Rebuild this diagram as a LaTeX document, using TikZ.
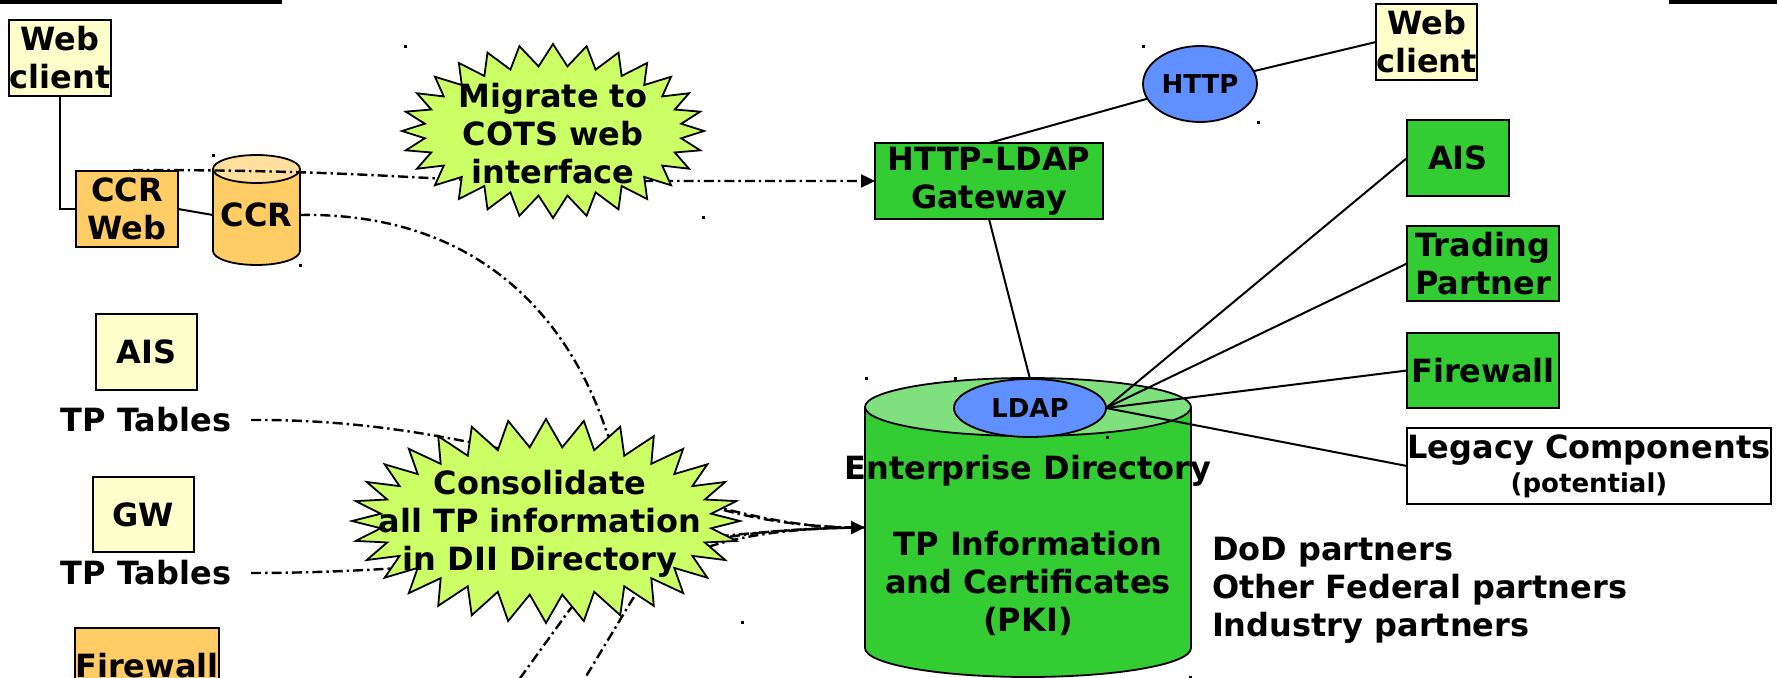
\documentclass[tikz,border=0pt]{standalone}
\usepackage{fontspec}
\setmainfont{DejaVu Sans}
\usetikzlibrary{shapes.geometric,shapes.symbols,arrows.meta}
\definecolor{ltyellow}{HTML}{FFFFCC}
\definecolor{ccrorange}{HTML}{FFCC66}
\definecolor{ccrtop}{HTML}{FFDF9E}
\definecolor{grn}{HTML}{33CC33}
\definecolor{grntop}{HTML}{80E080}
\definecolor{blu}{HTML}{6090FF}
\definecolor{burstc}{HTML}{CCFF66}
\begin{document}
\begin{tikzpicture}[x=0.5pt,y=-0.5pt,
  every node/.style={font=\bfseries\fontsize{16}{19}\selectfont, align=center, inner sep=0pt, outer sep=0pt},
  box/.style={draw, line width=0.9pt, minimum height=38pt},
  conn/.style={line width=1pt},
  dd/.style={line width=1.2pt, dash pattern=on 5pt off 2pt on 1.2pt off 2pt},
  burst/.style={starburst, draw, line width=0.9pt, fill=burstc, inner sep=0pt, random starburst=0},
  smallfont/.style={font=\bfseries\fontsize{13}{15}\selectfont},
  tipstyle/.style={-{Triangle[length=7pt,width=6.5pt]}}
]
\path[use as bounding box] (0,0) rectangle (1777,678);
\clip (0,0) rectangle (1777,678);
% top bars
\fill (0,0) rectangle (282,4);
\fill (1669,0) rectangle (1777,4);

% left nodes
\node[box, fill=ltyellow, minimum width=51pt] (webL) at (60,58) {Web\\client};
\node[box, fill=ccrorange, minimum width=51pt] (ccrweb) at (127,209) {CCR\\Web};
\node[box, fill=ltyellow, minimum width=50.5pt] (aisL) at (146.5,352) {AIS};
\node (tp1) at (146,420) {TP Tables};
\node[box, fill=ltyellow, minimum width=50.5pt, minimum height=37.5pt] (gwL) at (143.5,514.5) {GW};
\node (tp2) at (146,573) {TP Tables};
\node[box, fill=ccrorange, minimum width=69pt] (fwL) at (147,666) {Firewall};

% CCR cylinder
\draw[line width=0.9pt, fill=ccrorange] (256.5,251) ellipse [x radius=43.5, y radius=14];
\fill[ccrorange] (213,169) rectangle (300,251);
\draw[line width=0.9pt] (213,169) -- (213,251) (300,169) -- (300,251);
\draw[line width=0.9pt, fill=ccrtop] (256.5,169) ellipse [x radius=43.5, y radius=14];
\node[minimum width=43.5pt] (ccr) at (256.5,215) {CCR};

% Enterprise directory cylinder
\draw[line width=0.9pt, fill=grn] (1028,648) ellipse [x radius=163, y radius=29];
\fill[grn] (865,407) rectangle (1191,648);
\draw[line width=0.9pt] (865,407) -- (865,648) (1191,407) -- (1191,648);
\draw[line width=0.9pt, fill=grntop] (1028,407) ellipse [x radius=163, y radius=29];
\node[minimum width=163pt, minimum height=120.5pt] (dirbody) at (1028,527.5) {};
\node (dirtext) at (1028,545) {Enterprise Directory\\[19pt]TP Information\\and Certificates\\(PKI)};
\node[ellipse, draw, line width=0.9pt, fill=blu, minimum width=76pt, minimum height=29pt, smallfont] (ldap) at (1030,408) {LDAP};

% right nodes
\node[box, fill=ltyellow, minimum width=50.5pt] (webR) at (1426.5,42) {Web\\client};
\node[ellipse, draw, line width=0.9pt, fill=blu, minimum width=57pt, minimum height=38pt, smallfont] (http) at (1200,84) {HTTP};
\node[box, fill=grn, minimum width=114pt] (gw) at (989,181) {HTTP-LDAP\\Gateway};
\node[box, fill=grn, minimum width=51pt] (aisR) at (1458,158) {AIS};
\node[box, fill=grn, minimum width=76pt, minimum height=37.5pt] (tpR) at (1483,263.5) {Trading\\Partner};
\node[box, fill=grn, minimum width=76pt, minimum height=37.5pt] (fwR) at (1483,370.5) {Firewall};
\node[box, fill=white, minimum width=182pt] (legacy) at (1589,466) {Legacy Components\\[-2pt]{\fontsize{13}{15}\selectfont (potential)}};
\node[align=left, anchor=west] (partners) at (1212,590) {DoD partners\\Other Federal partners\\Industry partners};

% dash-dot connectors
\coordinate (m0) at (133,170);
\coordinate (b1) at (484,728);
\coordinate (b2) at (555,728);
\draw[dd, tipstyle] (m0) .. controls (380,170) and (430,182) .. (540,181) -- (gw.west);
\draw[dd] (ccr.east) .. controls (480,212) and (570,320) .. (607,433) .. controls (640,500) and (760,528) .. (dirbody.west);
\draw[dd, tipstyle] ([xshift=10pt]tp1.east) .. controls (520,418) and (700,528) .. (dirbody.west);
\draw[dd] ([xshift=10pt]tp2.east) .. controls (500,573) and (700,528) .. (dirbody.west);
\draw[dd] (b1) -- (568,612) .. controls (620,540) and (760,528) .. (dirbody.west);
\draw[dd] (b2) -- (632,600) .. controls (670,540) and (770,528) .. (dirbody.west);

% starbursts
\node[burst, minimum width=151pt, minimum height=87pt, starburst points=28, starburst point height=11pt] (mig) at (553,131) {};
\node (migtext) at (553,134) {Migrate to\\COTS web\\interface};
\node[burst, minimum width=194pt, minimum height=102pt, starburst points=32, starburst point height=14pt] (cons) at (546,521) {};
\node (constext) at (540,524) {Consolidate\\all TP information\\in DII Directory};

% solid connectors
\draw[conn] (webL.south) |- (ccrweb.west);
\draw[conn] (ccrweb.east) -- (ccr.west);
\draw[conn] (gw.north) -- (http);
\draw[conn] (http) -- (webR.west);
\draw[conn] (gw.south) -- (ldap.north);
\draw[conn] (ldap.east) -- (aisR.west);
\draw[conn] (ldap.east) -- (tpR.west);
\draw[conn] (ldap.east) -- (fwR.west);
\draw[conn] (ldap.east) -- (legacy.west);

% selection handles
\foreach \hx/\hy in {404/45, 702/216, 212/154, 299/264, 1142/45, 1257/121, 954/377, 1106/436, 865/377, 1189/676, 741/621}
  \fill (\hx,\hy) rectangle +(3,3);
\end{tikzpicture}
\end{document}
